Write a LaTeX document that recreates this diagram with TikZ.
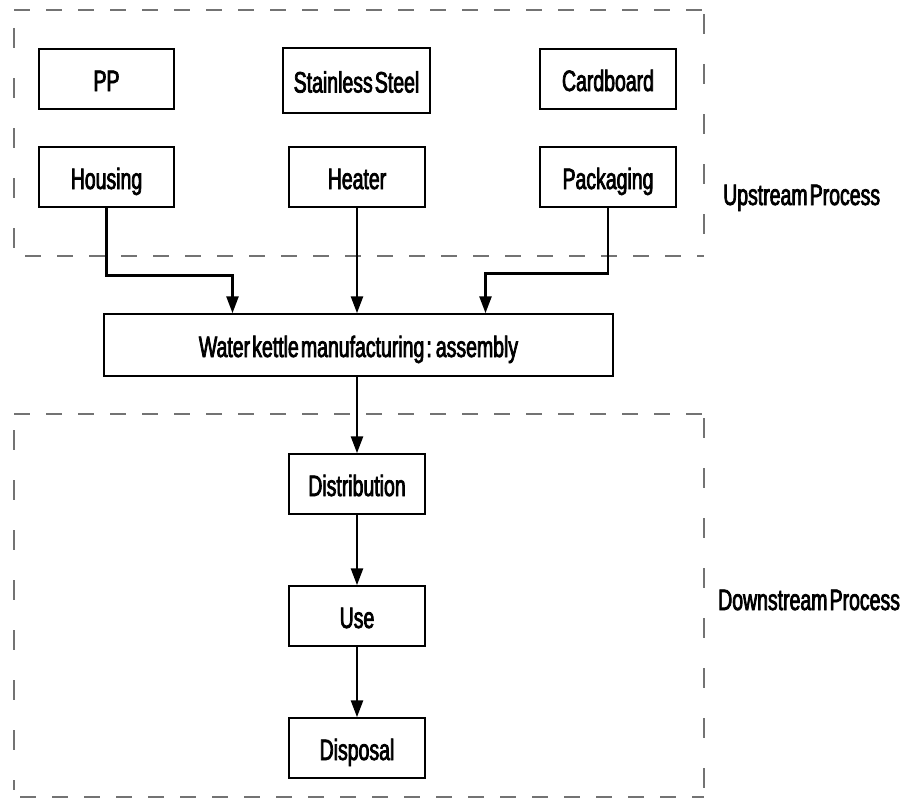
\documentclass[tikz,border=0pt]{standalone}
\usepackage{fontspec}
\setmainfont{Liberation Sans}[FakeStretch=0.66,FakeBold=2.5,WordSpace=0.4]
\usetikzlibrary{arrows.meta}
\begin{document}
\begin{tikzpicture}[x=1pt,y=-1pt,
  box/.style={draw=black,line width=1.5pt,minimum height=60pt,inner sep=0pt,text height=24pt,text depth=0pt,font=\fontsize{29.5}{32}\selectfont},
  lbl/.style={inner sep=0pt,anchor=base west,font=\fontsize{29.5}{32}\selectfont},
  arr/.style={line width=2.6pt,-{Triangle[length=17pt,width=12pt]}},
  dashh/.style={draw=black!55,line width=1.6pt,dash pattern=on 16pt off 16pt},
  dashv/.style={draw=black!55,line width=1.6pt,dash pattern=on 20pt off 30pt}]
\useasboundingbox (0,0) rectangle (915,800);
% dashed frames
\draw[dashh] (14,10) -- (704,10);
\draw[dashv] (704,14) -- (704,240);
\draw[dashv] (14,28) -- (14,250);
\draw[dashh] (25,256) -- (704,256);
\draw[dashh] (14,414) -- (704,414);
\draw[dashv] (704,418) -- (704,800);
\draw[dashv] (14,430) -- (14,790);
\draw[dashh] (20,797) -- (704,797);
% nodes
\node[box,minimum width=135pt] (pp) at (106.5,79) {PP};
\node[box,minimum width=147pt,minimum height=65pt] (ss) at (356.5,80.5) {Stainless Steel};
\node[box,minimum width=136pt] (cb) at (608,79) {Cardboard};
\node[box,minimum width=135pt] (hous) at (106.5,177) {Housing};
\node[box,minimum width=136pt] (heat) at (357,177) {Heater};
\node[box,minimum width=136pt] (pack) at (608,177) {Packaging};
\node[box,minimum width=509pt,minimum height=62pt] (asm) at (358.5,345) {Water kettle manufacturing : assembly};
\node[box,minimum width=136pt] (dist) at (357,484) {Distribution};
\node[box,minimum width=136pt] (use) at (357,616) {Use};
\node[box,minimum width=136pt] (disp) at (357,748) {Disposal};
\node[lbl] (up) at (723,205) {Upstream Process};
\node[lbl] (down) at (718,610) {Downstream Process};
% connectors
\draw[arr] (hous.south) -- ++(0,68) -| ([xshift=-126pt]asm.north);
\draw[arr] (heat.south) -- (heat.south |- asm.north);
\draw[arr] (pack.south) -- ++(0,66) -| ([xshift=127pt]asm.north);
\draw[arr] (asm.south -| dist.north) -- (dist.north);
\draw[arr] (dist) -- (use);
\draw[arr] (use) -- (disp);
\end{tikzpicture}
\end{document}
